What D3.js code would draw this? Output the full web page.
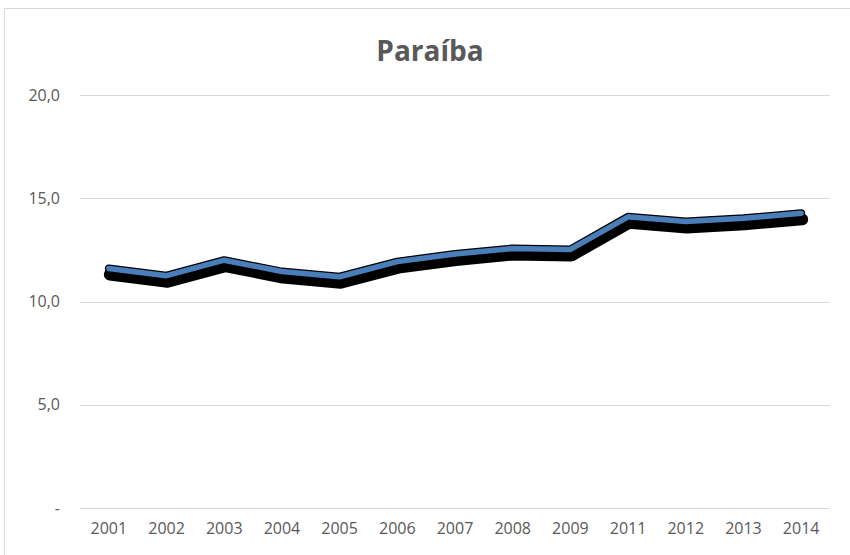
<!DOCTYPE html>
<html>
<head>
<meta charset="utf-8">
<script src="https://cdn.jsdelivr.net/npm/d3@7"></script>
<style>
  body { margin: 0; background: #fff; }
  svg { display: block; }
</style>
</head>
<body>
<script>
// Data
var years = ["2001", "2002", "2003", "2004", "2005", "2006", "2007", "2008", "2009", "2011", "2012", "2013", "2014"];
var values = [11.6, 11.25, 12.0, 11.45, 11.2, 11.93, 12.3, 12.57, 12.52, 14.1, 13.87, 14.03, 14.27];
var yTicks = [0, 5, 10, 15, 20];

// SVG Variables
var WIDTH = 850;
var HEIGHT = 555;
var margin = {top: 95, right: 20, bottom: 47, left: 80};

var svg = d3.select("body").append("svg").attr("width", WIDTH).attr("height", HEIGHT);

// chart frame (cut off at right / bottom like the screenshot)
svg.append("rect")
    .attr("x", 4.5).attr("y", 8.5)
    .attr("width", 900).attr("height", 600)
    .attr("fill", "#fff")
    .attr("stroke", "#d9d9d9");

var x = d3.scaleBand().domain(years).range([margin.left, WIDTH - margin.right]);
var y = d3.scaleLinear().domain([0, 20]).range([HEIGHT - margin.bottom, margin.top]);

// gridlines
svg.append("g").selectAll("line").data(yTicks).enter().append("line")
    .attr("x1", margin.left).attr("x2", WIDTH - margin.right)
    .attr("y1", function(d) { return Math.round(y(d)) + 0.5; })
    .attr("y2", function(d) { return Math.round(y(d)) + 0.5; })
    .attr("stroke", "#d9d9d9")
    .attr("stroke-width", 1);

// Y-axis labels
var yAxis = d3.axisLeft(y).tickValues(yTicks).tickSize(0).tickPadding(0)
    .tickFormat(function(d) { return d === 0 ? "-" : d3.format(".1f")(d).replace(".", ","); });
var gy = svg.append("g").attr("transform", "translate(60,0)").call(yAxis);
gy.select(".domain").remove();
gy.selectAll("text")
    .attr("fill", "#595959")
    .style("font-family", "'Open Sans', sans-serif")
    .style("font-size", "16px");

// X-axis labels
var xAxis = d3.axisBottom(x).tickSize(0).tickPadding(0);
var gx = svg.append("g").attr("transform", "translate(0," + (HEIGHT - margin.bottom + 15) + ")").call(xAxis);
gx.select(".domain").remove();
gx.selectAll("text")
    .attr("fill", "#595959")
    .style("font-family", "'Open Sans', sans-serif")
    .style("font-size", "16px");

// Title
svg.append("text")
    .attr("x", 430).attr("y", 61)
    .attr("text-anchor", "middle")
    .attr("fill", "#595959")
    .style("font-family", "'Open Sans', sans-serif")
    .style("font-weight", "bold")
    .style("font-size", "28px")
    .text("Paraíba");

// the line: shadow, outline, then blue
var line = d3.line()
    .x(function(d, i) { return x(years[i]) + x.bandwidth() / 2; })
    .y(function(d) { return y(d); });

svg.append("path").datum(values)
    .attr("d", line)
    .attr("transform", "translate(1,6)")
    .attr("fill", "none")
    .attr("stroke", "#000")
    .attr("stroke-width", 12)
    .attr("stroke-linejoin", "round")
    .attr("stroke-linecap", "round");

svg.append("path").datum(values)
    .attr("d", line)
    .attr("fill", "none")
    .attr("stroke", "#000")
    .attr("stroke-width", 8)
    .attr("stroke-linejoin", "round")
    .attr("stroke-linecap", "round");

svg.append("path").datum(values)
    .attr("d", line)
    .attr("fill", "none")
    .attr("stroke", "#4a7ebb")
    .attr("stroke-width", 5.5)
    .attr("stroke-linejoin", "round")
    .attr("stroke-linecap", "round");
</script>
</body>
</html>
